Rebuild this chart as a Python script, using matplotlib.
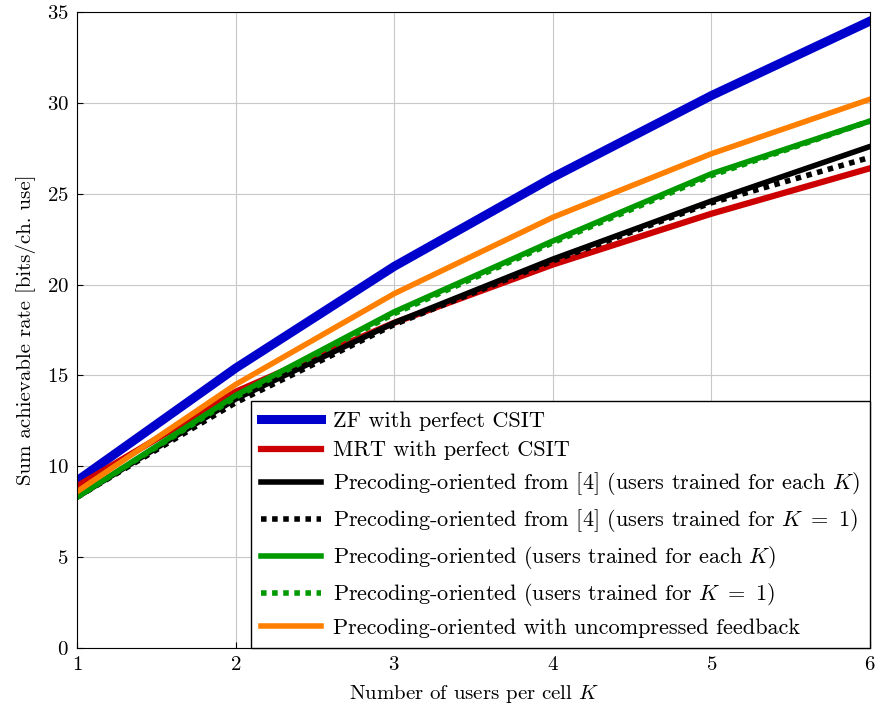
import matplotlib
matplotlib.use("Agg")
import matplotlib.pyplot as plt

# data
K = [1, 2, 3, 4, 5, 6]
zf_perfect = [9.2, 15.4, 21.0, 25.9, 30.4, 34.5]
mrt_perfect = [8.9, 14.1, 17.9, 21.1, 23.9, 26.4]
ref4_each_k = [8.3, 13.7, 17.9, 21.4, 24.6, 27.6]
ref4_k1 = [8.3, 13.5, 17.8, 21.3, 24.5, 27.0]
prec_each_k = [8.3, 13.9, 18.5, 22.4, 26.1, 29.0]
prec_k1 = [8.3, 13.8, 18.4, 22.3, 26.0, 29.0]
uncompressed = [8.6, 14.5, 19.5, 23.7, 27.2, 30.2]

labels = [
    "ZF with perfect CSIT",
    "MRT with perfect CSIT",
    r"Precoding-oriented from [4] (users trained for each $K$)",
    r"Precoding-oriented from [4] (users trained for $K\ =\ 1$)",
    r"Precoding-oriented (users trained for each $K$)",
    r"Precoding-oriented (users trained for $K\ =\ 1$)",
    "Precoding-oriented with uncompressed feedback",
]

plt.rcParams['font.family'] = 'serif'
plt.rcParams['font.serif'] = ['cmr10', 'DejaVu Serif']
plt.rcParams['mathtext.fontset'] = 'cm'
plt.rcParams['axes.formatter.use_mathtext'] = True

fig = plt.figure(figsize=(8.8, 7.1), dpi=100)
ax = fig.add_axes([77 / 880, 62 / 710, 793 / 880, 636 / 710])

blue = '#0000CC'
red = '#CC0000'
green = '#009900'
orange = '#FF8000'

ax.plot(K, zf_perfect, color=blue, lw=6.5, label=labels[0])
ax.plot(K, mrt_perfect, color=red, lw=4.5, label=labels[1])
ax.plot(K, ref4_each_k, color='black', lw=4, label=labels[2])
ax.plot(K, ref4_k1, color='black', lw=4, ls=(0, (1, 1)), label=labels[3])
ax.plot(K, prec_each_k, color=green, lw=4, label=labels[4])
ax.plot(K, prec_k1, color=green, lw=4, ls=(0, (1, 1)), label=labels[5])
ax.plot(K, uncompressed, color=orange, lw=4, label=labels[6])

ax.set_xlim(1, 6)
ax.set_ylim(0, 35)
ax.set_xticks(K)
ax.set_yticks(range(0, 36, 5))
ax.grid(True, color='#c8c8c8', lw=0.8)
ax.set_axisbelow(True)
ax.tick_params(direction='in', labelsize=15, length=4, pad=6)
ax.set_xlabel(r"Number of users per cell $K$", fontsize=15, labelpad=6)
ax.set_ylabel("Sum achievable rate [bits/ch. use]", fontsize=15, labelpad=8)

leg = ax.legend(loc='lower right', fontsize=16, handlelength=2.7, handletextpad=0.55,
                fancybox=False, framealpha=1, edgecolor='black', borderaxespad=0.0,
                labelspacing=0.45, borderpad=0.45)
leg.get_frame().set_linewidth(1.0)

plt.savefig('out.png', dpi=100)
